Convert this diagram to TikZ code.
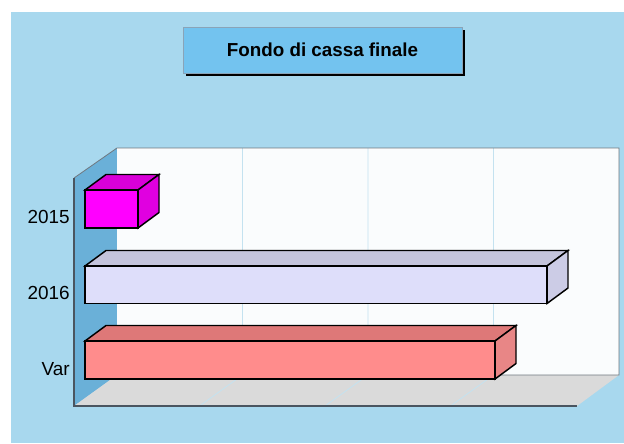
\documentclass[tikz,border=0pt]{standalone}
\usepackage{fontspec}
\setmainfont{Liberation Sans}
\usetikzlibrary{shadows}
\definecolor{bgblue}{HTML}{A8D8EE}
\definecolor{wallblue}{HTML}{6AB0D8}
\definecolor{backwall}{HTML}{FAFCFD}
\definecolor{floorgray}{HTML}{DADADA}
\definecolor{gridblue}{HTML}{C4E2F0}
\definecolor{frameline}{HTML}{707880}
\definecolor{axisgray}{HTML}{4A5560}
\definecolor{titlefill}{HTML}{73C3EF}
\definecolor{titleborder}{HTML}{8AA4B8}
\definecolor{magfront}{HTML}{FF00FF}
\definecolor{magtop}{HTML}{D800D8}
\definecolor{magside}{HTML}{E000E0}
\definecolor{lavfront}{HTML}{DEDEFA}
\definecolor{lavtop}{HTML}{C4C4DC}
\definecolor{lavside}{HTML}{CCCCE6}
\definecolor{redfront}{HTML}{FF8C8C}
\definecolor{redtop}{HTML}{DE7878}
\definecolor{redside}{HTML}{E88686}
\newcommand{\cubebar}[7]{%
  \filldraw[barline,fill=#6] (#1,#3) -- (#1+21,#3-15.5) -- (#2+21,#3-15.5) -- (#2,#3) -- cycle;
  \filldraw[barline,fill=#7] (#2,#3) -- (#2+21,#3-15.5) -- (#2+21,#4-15.5) -- (#2,#4) -- cycle;
  \filldraw[barline,fill=#5] (#1,#3) rectangle (#2,#4);
}
\begin{document}
\begin{tikzpicture}[x=0.75pt,y=-0.75pt,
  barline/.style={draw=black,line width=1.1pt,line join=miter},
  gridline/.style={draw=gridblue,line width=0.6pt},
  frame/.style={draw=frameline,line width=0.6pt},
  axis/.style={draw=axisgray,line width=0.9pt},
  lab/.style={font=\fontsize{14.2pt}{16pt}\selectfont,text=black,anchor=east,inner sep=0pt},
  titlebox/.style={fill=titlefill,draw=titleborder,line width=0.5pt,
    minimum width=209.25pt,minimum height=34.5pt,inner sep=0pt,
    font=\bfseries\fontsize{14.1pt}{16pt}\selectfont,
    drop shadow={shadow xshift=2.25pt,shadow yshift=-2.25pt,fill=black,opacity=1}}]
\useasboundingbox (0,0) rectangle (624,443);
\fill[white] (0,0) rectangle (624,443);
\fill[bgblue] (11,12) rectangle (624,443);
% walls and floor
\fill[wallblue] (74,178) -- (117,148) -- (117,375) -- (74,406) -- cycle;
\fill[backwall] (117,148) rectangle (619,375);
\fill[floorgray] (74,406) -- (117,375) -- (619,375) -- (577,406) -- cycle;
% grid
\foreach \gx in {242.5,368,493.5}{
  \draw[gridline] (\gx,148) -- (\gx,375) -- (\gx-43,406);
}
% frame
\draw[frame] (74,178) -- (117,148) -- (619,148) -- (619,375) -- (117,375);
\draw[axis] (74,178) -- (74,406) -- (577,406);
% bars
\cubebar{85}{138}{190}{228}{magfront}{magtop}{magside}
\cubebar{85}{547}{266}{303.5}{lavfront}{lavtop}{lavside}
\cubebar{85}{495}{341}{379}{redfront}{redtop}{redside}
% labels
\node[lab] (l2015) at (70,217) {2015};
\node[lab] (l2016) at (70,293) {2016};
\node[lab] (lvar) at (70,369) {Var};
% title
\node[titlebox] (title) at (322.5,50) {Fondo di cassa finale};
\end{tikzpicture}
\end{document}
